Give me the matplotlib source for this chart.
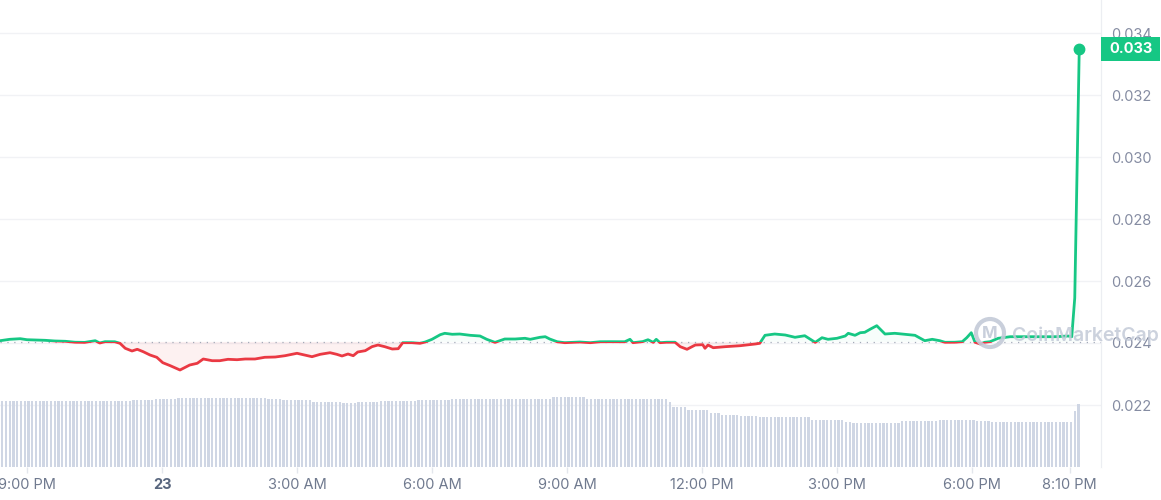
import matplotlib
matplotlib.use("Agg")
import matplotlib.pyplot as plt
import numpy as np
from matplotlib.patches import Rectangle, Ellipse

plt.rcParams['font.family'] = ['Inter', 'DejaVu Sans']

# ---- data ----
# minutes after 9:00 PM (day 22)
price_minutes = [-36, -23, -9, 0, 11, 24, 37, 51, 64, 77,
                 91, 97, 104, 117, 124, 131, 140, 147, 155, 164,
                 173, 181, 191, 204, 217, 227, 235, 247, 257, 268,
                 280, 291, 304, 317, 331, 344, 360, 368, 380, 391,
                 404, 413, 420, 428, 435, 441, 451, 460, 468, 477,
                 487, 495, 501, 513, 524, 531, 540, 551, 557, 567,
                 577, 591, 604, 613, 624, 637, 651, 664, 671, 684,
                 691, 697, 707, 717, 737, 751, 764, 777, 797, 804,
                 808, 821, 828, 835, 839, 844, 853, 864, 871, 880,
                 891, 901, 904, 908, 915, 931, 951, 971, 977, 984,
                 997, 1011, 1024, 1037, 1051, 1060, 1068, 1080, 1091, 1095,
                 1104, 1111, 1117, 1124, 1133, 1144, 1157, 1171, 1184, 1197,
                 1207, 1217, 1224, 1237, 1247, 1253, 1259, 1264, 1271, 1277,
                 1284, 1295, 1311, 1331, 1351, 1371, 1388, 1393, 1397, 1403]

prices = [0.024074, 0.024119, 0.024139, 0.024106, 0.024097, 0.024087, 0.024065, 0.024055, 0.024025, 0.024020,
          0.024074, 0.024000, 0.024042, 0.024040, 0.023990, 0.023829, 0.023742, 0.023797, 0.023719, 0.023613,
          0.023539, 0.023365, 0.023268, 0.023129, 0.023290, 0.023345, 0.023484, 0.023429, 0.023429, 0.023474,
          0.023461, 0.023484, 0.023484, 0.023539, 0.023548, 0.023590, 0.023668, 0.023623, 0.023558, 0.023635,
          0.023687, 0.023635, 0.023581, 0.023645, 0.023590, 0.023710, 0.023752, 0.023881, 0.023935, 0.023881,
          0.023806, 0.023816, 0.024010, 0.024010, 0.023990, 0.024032, 0.024119, 0.024268, 0.024313, 0.024281,
          0.024290, 0.024248, 0.024226, 0.024119, 0.024020, 0.024129, 0.024129, 0.024152, 0.024119, 0.024184,
          0.024203, 0.024129, 0.024040, 0.024010, 0.024032, 0.024010, 0.024040, 0.024042, 0.024040, 0.024119,
          0.024010, 0.024045, 0.024106, 0.024020, 0.024119, 0.024010, 0.024025, 0.024025, 0.023881, 0.023797,
          0.023935, 0.023945, 0.023829, 0.023935, 0.023848, 0.023881, 0.023913, 0.023968, 0.023990, 0.024248,
          0.024290, 0.024258, 0.024184, 0.024235, 0.024020, 0.024171, 0.024119, 0.024152, 0.024226, 0.024313,
          0.024248, 0.024332, 0.024345, 0.024442, 0.024558, 0.024290, 0.024313, 0.024281, 0.024248, 0.024074,
          0.024119, 0.024074, 0.024023, 0.024025, 0.024042, 0.024171, 0.024332, 0.024023, 0.023968, 0.024023,
          0.024042, 0.024152, 0.024203, 0.024203, 0.024203, 0.024203, 0.024226, 0.024203, 0.025452, 0.033484]

reference_price = 0.024035

# 5-minute volume bars (relative units)
volume = [66, 66, 66, 66, 66, 66, 66, 66, 66, 66, 66, 66, 66, 66, 66, 66, 66, 66,
          66, 66, 66, 66, 66, 66, 66, 66, 66, 66, 66, 66, 66, 66, 66, 66, 66,
          67, 67, 67, 67, 67, 67, 68, 68, 68, 68, 68, 68,
          69, 69, 69, 69, 69, 69, 69, 69, 69, 69, 69, 69,
          69, 69, 69, 69, 69, 69, 69, 69, 69, 69, 69, 69,
          68, 68, 68, 68, 67, 67, 67, 67, 67, 67, 67, 67,
          65, 65, 65, 65, 65, 65, 65, 65, 64, 64, 64, 64,
          65, 65, 65, 65, 65, 65, 66, 66, 66, 66, 66, 66, 66, 66, 66, 66,
          67, 67, 67, 67, 67, 67, 67, 67, 67,
          68, 68, 68, 68, 68, 68, 68, 68, 68, 68, 68, 68, 68, 68,
          68, 68, 68, 68, 68, 68, 68, 68, 68, 68, 68, 68, 68,
          70, 70, 70, 70, 70, 70, 70, 70, 70,
          68, 68, 68, 68, 68, 68, 68, 68, 68, 68, 68,
          68, 68, 68, 68, 68, 68, 68, 68, 68, 68, 68,
          65, 60, 60, 60, 60, 57, 57, 57, 57, 57, 57, 54, 54, 54,
          52, 52, 52, 52, 52, 51, 51, 51, 51, 51,
          50, 50, 50, 50, 50, 50, 50, 50, 50, 50, 50, 50, 50, 50,
          47, 47, 47, 47, 47, 47, 47, 47, 47, 45, 45,
          44, 44, 44, 44, 44, 44, 44, 44, 44, 44, 44, 44, 44,
          46, 46, 46, 46, 46, 46, 46, 46, 46, 46,
          47, 47, 47, 47, 47, 47, 47, 47, 47, 47, 46, 46, 46, 46,
          45, 45, 45, 45, 45, 45, 45, 45, 45, 45, 45,
          45, 45, 45, 45, 45, 45, 45, 45, 45, 45, 45,
          56, 63]
volume_start_minute = -33
volume_step_minutes = 5

tick_hours = [0, 3, 6, 9, 12, 15, 18, 21, 23 + 10 / 60]
tick_labels = ['9:00 PM', '23', '3:00 AM', '6:00 AM', '9:00 AM',
               '12:00 PM', '3:00 PM', '6:00 PM', '8:10 PM']
price_ticks = [0.022, 0.024, 0.026, 0.028, 0.030, 0.032, 0.034]

# ---- styling ----
GREEN = '#16c784'
RED = '#ea3943'
BAR = '#cfd6e4'
W, H = 1161, 500

t = np.array(price_minutes) / 60.0
p = np.array(prices)
vt = (volume_start_minute + volume_step_minutes * np.arange(len(volume))) / 60.0

fig = plt.figure(figsize=(W / 100, H / 100), dpi=100)
fig.patch.set_facecolor('white')
rect = [0, 33 / H, 1101 / W, 467 / H]
ax = fig.add_axes(rect)
ax_vol = ax.twinx()

xmin, xmax = -0.6, 1432 / 60
ymin, ymax = 0.020, 0.034 + 33 * 0.002 / 62
ax.set_xlim(xmin, xmax)
ax.set_ylim(ymin, ymax)

# volume
ax_vol.bar(vt, volume, width=2.7 / 60, color=BAR, linewidth=0, align='center')
ax_vol.set_ylim(0, 467)
ax_vol.set_yticks([])
for s in ax_vol.spines.values():
    s.set_visible(False)

# price line colored by reference
ax.axhline(reference_price, color='#a3aab8', lw=0.9, dashes=(1, 4.5), zorder=2)
ax.fill_between(t, p, reference_price, where=p < reference_price, interpolate=True,
                color=RED, alpha=0.07, linewidth=0, zorder=1)
ax.fill_between(t, p, reference_price, where=p > reference_price, interpolate=True,
                color=GREEN, alpha=0.03, linewidth=0, zorder=1)

lg, = ax.plot(t, p, color=GREEN, lw=2.0, zorder=3, solid_capstyle='round', solid_joinstyle='round')
lr, = ax.plot(t, p, color=RED, lw=2.0, zorder=3, solid_capstyle='round', solid_joinstyle='round')
clip_up = Rectangle((xmin - 5, reference_price), xmax - xmin + 10, 1.0, transform=ax.transData)
clip_dn = Rectangle((xmin - 5, reference_price - 1.0), xmax - xmin + 10, 1.0, transform=ax.transData)
lg.set_clip_path(clip_up)
lr.set_clip_path(clip_dn)

ax.plot([t[-1]], [p[-1]], 'o', color=GREEN, ms=7.5, zorder=4)

# axes styling
ax.set_yticks(price_ticks)
ax.set_yticklabels([f'{v:.3f}' for v in price_ticks])
ax.yaxis.tick_right()
ax.tick_params(axis='y', length=0, pad=7, labelsize=10.5, labelcolor='#858ca2')
ax.set_xticks(tick_hours)
ax.set_xticklabels(tick_labels)
ax.tick_params(axis='x', length=4, width=1, color='#e3e6ec', pad=4, labelsize=10.5,
               labelcolor='#707a8f')
for lab in ax.get_xticklabels():
    if lab.get_text() == '23':
        lab.set_fontweight('bold')
        lab.set_color('#58667e')
ax.yaxis.grid(True, color='#f1f2f5', lw=1)
ax.xaxis.grid(False)
ax.set_axisbelow(True)
for name, s in ax.spines.items():
    s.set_visible(name == 'right')
ax.spines['right'].set_color('#eceef2')
ax_vol.spines['right'].set_visible(True)
ax_vol.spines['right'].set_color('#eceef2')
ax.set_facecolor('none')

# last price tag
fig.canvas.draw()
yd = ax.transData.transform((0, p[-1]))[1] / H
bh = 24 / H
fig.patches.append(Rectangle((1101 / W, yd - bh / 2), 59 / W, bh, transform=fig.transFigure,
                             facecolor=GREEN, edgecolor='none', zorder=5))
fig.text(1130.5 / W, yd, f'{p[-1]:.3f}', color='white', fontsize=10.5, fontweight='bold',
         ha='center', va='center', zorder=6)

# watermark
wm = '#c3cad8'
fig.patches.append(Ellipse((990 / W, (H - 333) / H), 28 / W, 28 / H, transform=fig.transFigure,
                           facecolor='none', edgecolor=wm, lw=3.0, zorder=7, alpha=0.9))
fig.text(990 / W, (H - 334) / H, 'M', color=wm, fontsize=12, fontweight='bold',
         ha='center', va='center', zorder=7, alpha=0.9)
fig.text(1012 / W, (H - 336) / H, 'CoinMarketCap', color=wm, fontsize=14, fontweight='semibold',
         ha='left', va='center', zorder=7, alpha=0.85)

fig.savefig('out.png', dpi=100, facecolor='white')
